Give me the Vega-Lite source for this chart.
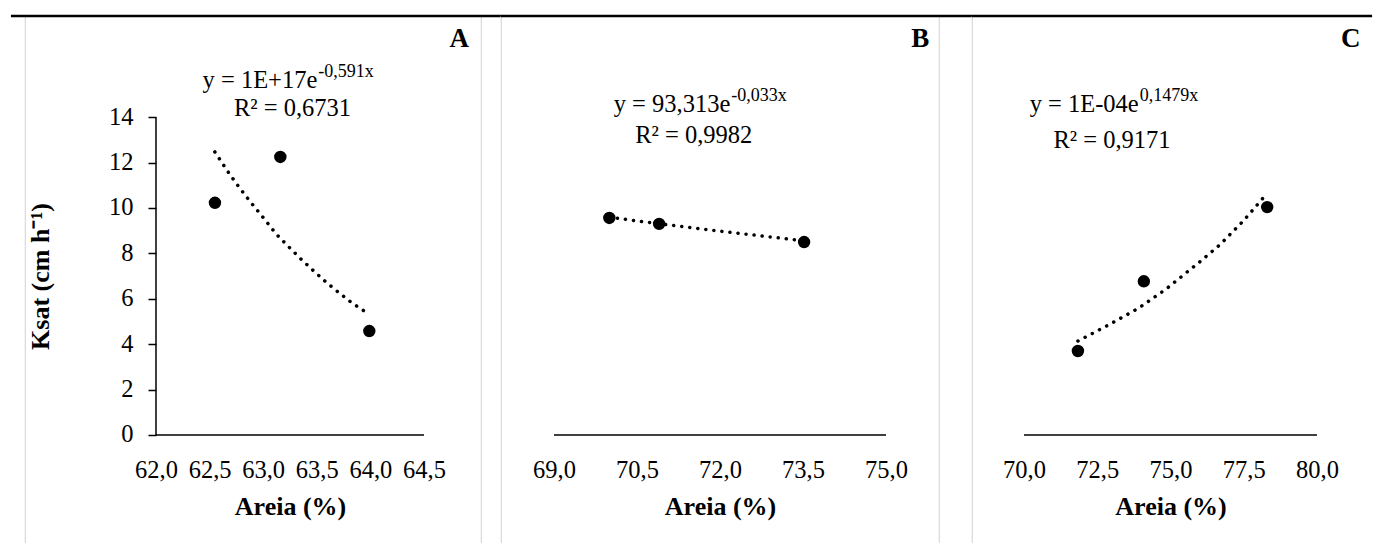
{
  "$schema": "https://vega.github.io/schema/vega-lite/v6.json",
  "padding": {"left": 9, "top": 14, "right": 0, "bottom": 0},
  "bounds": "flush",
  "config": {
    "view": {"stroke": "#d9d9d9", "strokeWidth": 1.2},
    "axis": {"grid": false, "labelFont": "Liberation Serif", "titleFont": "Liberation Serif", "labelColor": "black", "titleColor": "black", "labelFontSize": 24.5, "titleFontSize": 26, "titleFontWeight": "bold", "labelOverlap": false, "labelFlush": false},
    "text": {"font": "Liberation Serif", "color": "black"}
  },
  "datasets": {
    "points": [
      {"panel": "A", "areia": 62.55, "ksat": 10.23},
      {"panel": "A", "areia": 63.16, "ksat": 12.25},
      {"panel": "A", "areia": 63.99, "ksat": 4.58},
      {"panel": "B", "areia": 70.0, "ksat": 9.56},
      {"panel": "B", "areia": 70.9, "ksat": 9.30},
      {"panel": "B", "areia": 73.52, "ksat": 8.50},
      {"panel": "C", "areia": 71.84, "ksat": 3.70},
      {"panel": "C", "areia": 74.09, "ksat": 6.77},
      {"panel": "C", "areia": 78.3, "ksat": 10.04}
    ],
    "trend": [
      {"panel": "A", "areia": 62.549, "ksat": 12.47},
      {"panel": "A", "areia": 62.681, "ksat": 11.53},
      {"panel": "A", "areia": 62.776, "ksat": 10.91},
      {"panel": "A", "areia": 62.874, "ksat": 10.31},
      {"panel": "A", "areia": 63.025, "ksat": 9.43},
      {"panel": "A", "areia": 63.122, "ksat": 8.85},
      {"panel": "A", "areia": 63.236, "ksat": 8.30},
      {"panel": "A", "areia": 63.346, "ksat": 7.78},
      {"panel": "A", "areia": 63.464, "ksat": 7.26},
      {"panel": "A", "areia": 63.583, "ksat": 6.75},
      {"panel": "A", "areia": 63.707, "ksat": 6.27},
      {"panel": "A", "areia": 63.831, "ksat": 5.81},
      {"panel": "A", "areia": 63.972, "ksat": 5.37},
      {"panel": "B", "areia": 70.0, "ksat": 9.60},
      {"panel": "B", "areia": 70.5, "ksat": 9.43},
      {"panel": "B", "areia": 71.0, "ksat": 9.28},
      {"panel": "B", "areia": 71.5, "ksat": 9.13},
      {"panel": "B", "areia": 72.0, "ksat": 8.98},
      {"panel": "B", "areia": 72.5, "ksat": 8.84},
      {"panel": "B", "areia": 73.0, "ksat": 8.70},
      {"panel": "B", "areia": 73.5, "ksat": 8.56},
      {"panel": "C", "areia": 71.84, "ksat": 4.14},
      {"panel": "C", "areia": 72.89, "ksat": 4.85},
      {"panel": "C", "areia": 73.90, "ksat": 5.58},
      {"panel": "C", "areia": 74.85, "ksat": 6.43},
      {"panel": "C", "areia": 75.74, "ksat": 7.36},
      {"panel": "C", "areia": 75.98, "ksat": 7.61},
      {"panel": "C", "areia": 76.7, "ksat": 8.40},
      {"panel": "C", "areia": 77.5, "ksat": 9.45},
      {"panel": "C", "areia": 78.3, "ksat": 10.65}
    ]
  },
  "spacing": 20,
  "hconcat": [
    {
      "width": 456,
      "height": 532,
      "data": {"values": [{}]},
      "layer": [
        {
          "data": {"name": "trend"},
          "transform": [{"filter": "datum.panel == 'A'"}],
          "mark": {"type": "line", "color": "black", "strokeWidth": 3.5, "strokeDash": [0.1, 8], "strokeCap": "round"},
          "encoding": {
            "x": {"field": "areia", "type": "quantitative", "scale": {"domain": [60.778, 65.032], "nice": false, "zero": false},
              "axis": {"values": [62, 62.5, 63, 63.5, 64, 64.5], "offset": -113, "domain": false, "ticks": false, "tickSize": 0, "labelExpr": "replace(format(datum.value, '.1f'), '.', ',')", "labelBaseline": "alphabetic", "labelPadding": 42.5, "labelAngle": 0, "title": "Areia (%)", "titleX": 265, "titleY": 79, "titleBaseline": "alphabetic", "titleAlign": "center"}},
            "y": {"field": "ksat", "type": "quantitative", "scale": {"domain": [-4.978, 18.458], "nice": false, "zero": false},
              "axis": {"values": [0, 2, 4, 6, 8, 10, 12, 14], "offset": -131, "domain": false, "ticks": true, "tickSize": 8, "tickColor": "black", "tickWidth": 1.5, "labelPadding": 15, "labelBaseline": "middle", "title": "Ksat (cm h⁻¹)", "titleAngle": 270, "titleX": -116, "titleY": 260, "titleBaseline": "middle", "titleAlign": "center"}}
          }
        },
        {
          "data": {"name": "points"},
          "transform": [{"filter": "datum.panel == 'A'"}],
          "mark": {"type": "circle", "size": 154, "color": "black", "opacity": 1},
          "encoding": {"x": {"field": "areia", "type": "quantitative"}, "y": {"field": "ksat", "type": "quantitative"}}
        },
        {"mark": {"type": "rule", "color": "black", "strokeWidth": 1.5}, "encoding": {"x": {"datum": 62}, "x2": {"datum": 64.5}, "y": {"datum": 0}}},
        {"mark": {"type": "rule", "color": "black", "strokeWidth": 1.5}, "encoding": {"x": {"datum": 62}, "y": {"datum": 0}, "y2": {"datum": 14}}},
        {"mark": {"type": "rule", "color": "black", "strokeWidth": 2.5}, "encoding": {"x": {"datum": 60.647}, "x2": {"datum": 65.218}, "y": {"datum": 18.458}}},
        {"mark": {"type": "text", "text": "y = 1E+17e", "align": "right", "baseline": "alphabetic", "fontSize": 24.5}, "encoding": {"x": {"datum": 63.505}, "y": {"datum": 15.286}}},
        {"mark": {"type": "text", "text": "-0,591x", "align": "left", "baseline": "alphabetic", "fontSize": 18, "dx": 1, "dy": -11}, "encoding": {"x": {"datum": 63.505}, "y": {"datum": 15.286}}},
        {"mark": {"type": "text", "text": "R² = 0,6731", "align": "center", "baseline": "alphabetic", "fontSize": 24.5}, "encoding": {"x": {"datum": 63.273}, "y": {"datum": 14.053}}},
        {"mark": {"type": "text", "text": "A", "align": "right", "baseline": "alphabetic", "fontSize": 27, "fontWeight": "bold"}, "encoding": {"x": {"datum": 64.92}, "y": {"datum": 17.11}}}
      ]
    },
    {
      "spacing": 33,
      "bounds": "flush",
      "hconcat": [
        {
          "width": 438,
          "height": 532,
          "data": {"values": [{}]},
          "layer": [
            {
              "data": {"name": "trend"},
              "transform": [{"filter": "datum.panel == 'B'"}],
              "mark": {"type": "line", "color": "black", "strokeWidth": 3.5, "strokeDash": [0.1, 8], "strokeCap": "round"},
              "encoding": {
                "x": {"field": "areia", "type": "quantitative", "scale": {"domain": [68.042, 75.958], "nice": false, "zero": false},
                  "axis": {"values": [69, 70.5, 72, 73.5, 75], "offset": -113, "domain": false, "ticks": false, "tickSize": 0, "labelExpr": "replace(format(datum.value, '.1f'), '.', ',')", "labelBaseline": "alphabetic", "labelPadding": 42.5, "labelAngle": 0, "title": "Areia (%)", "titleX": 219, "titleY": 79, "titleBaseline": "alphabetic", "titleAlign": "center"}},
                "y": {"field": "ksat", "type": "quantitative", "scale": {"domain": [-4.978, 18.458], "nice": false, "zero": false}, "axis": null}
              }
            },
            {
              "data": {"name": "points"},
              "transform": [{"filter": "datum.panel == 'B'"}],
              "mark": {"type": "circle", "size": 154, "color": "black", "opacity": 1},
              "encoding": {"x": {"field": "areia", "type": "quantitative"}, "y": {"field": "ksat", "type": "quantitative"}}
            },
            {"mark": {"type": "rule", "color": "black", "strokeWidth": 1.5}, "encoding": {"x": {"datum": 69}, "x2": {"datum": 75}, "y": {"datum": 0}}},
            {"mark": {"type": "rule", "color": "black", "strokeWidth": 2.5}, "encoding": {"x": {"datum": 68.042}, "x2": {"datum": 76.555}, "y": {"datum": 18.458}}},
            {"mark": {"type": "text", "text": "y = 93,313e", "align": "right", "baseline": "alphabetic", "fontSize": 24.5}, "encoding": {"x": {"datum": 72.186}, "y": {"datum": 14.207}}},
            {"mark": {"type": "text", "text": "-0,033x", "align": "left", "baseline": "alphabetic", "fontSize": 18, "dx": 1, "dy": -11}, "encoding": {"x": {"datum": 72.186}, "y": {"datum": 14.207}}},
            {"mark": {"type": "text", "text": "R² = 0,9982", "align": "center", "baseline": "alphabetic", "fontSize": 24.5}, "encoding": {"x": {"datum": 71.525}, "y": {"datum": 12.85}}},
            {"mark": {"type": "text", "text": "B", "align": "right", "baseline": "alphabetic", "fontSize": 27, "fontWeight": "bold"}, "encoding": {"x": {"datum": 75.78}, "y": {"datum": 17.09}}}
          ]
        },
        {
          "width": 402,
          "height": 532,
          "data": {"values": [{}]},
          "layer": [
            {
              "data": {"name": "trend"},
              "transform": [{"filter": "datum.panel == 'C'"}],
              "mark": {"type": "line", "color": "black", "strokeWidth": 3.5, "strokeDash": [0.1, 8], "strokeCap": "round"},
              "encoding": {
                "x": {"field": "areia", "type": "quantitative", "scale": {"domain": [68.225, 81.945], "nice": false, "zero": false},
                  "axis": {"values": [70, 72.5, 75, 77.5, 80], "offset": -113, "domain": false, "ticks": false, "tickSize": 0, "labelExpr": "replace(format(datum.value, '.1f'), '.', ',')", "labelBaseline": "alphabetic", "labelPadding": 42.5, "labelAngle": 0, "title": "Areia (%)", "titleX": 198.5, "titleY": 79, "titleBaseline": "alphabetic", "titleAlign": "center"}},
                "y": {"field": "ksat", "type": "quantitative", "scale": {"domain": [-4.978, 18.458], "nice": false, "zero": false}, "axis": null}
              }
            },
            {
              "data": {"name": "points"},
              "transform": [{"filter": "datum.panel == 'C'"}],
              "mark": {"type": "circle", "size": 154, "color": "black", "opacity": 1},
              "encoding": {"x": {"field": "areia", "type": "quantitative"}, "y": {"field": "ksat", "type": "quantitative"}}
            },
            {"mark": {"type": "rule", "color": "black", "strokeWidth": 1.5}, "encoding": {"x": {"datum": 70}, "x2": {"datum": 80}, "y": {"datum": 0}}},
            {"mark": {"type": "rule", "color": "black", "strokeWidth": 2.5}, "encoding": {"x": {"datum": 68.225}, "x2": {"datum": 81.877}, "y": {"datum": 18.458}}},
            {"mark": {"type": "text", "text": "y = 1E-04e", "align": "right", "baseline": "alphabetic", "fontSize": 24.5}, "encoding": {"x": {"datum": 73.915}, "y": {"datum": 14.207}}},
            {"mark": {"type": "text", "text": "0,1479x", "align": "left", "baseline": "alphabetic", "fontSize": 18, "dx": 1, "dy": -11}, "encoding": {"x": {"datum": 73.915}, "y": {"datum": 14.207}}},
            {"mark": {"type": "text", "text": "R² = 0,9171", "align": "center", "baseline": "alphabetic", "fontSize": 24.5}, "encoding": {"x": {"datum": 73.003}, "y": {"datum": 12.665}}},
            {"mark": {"type": "text", "text": "C", "align": "right", "baseline": "alphabetic", "fontSize": 27, "fontWeight": "bold"}, "encoding": {"x": {"datum": 81.48}, "y": {"datum": 17.09}}}
          ]
        }
      ]
    }
  ]
}
